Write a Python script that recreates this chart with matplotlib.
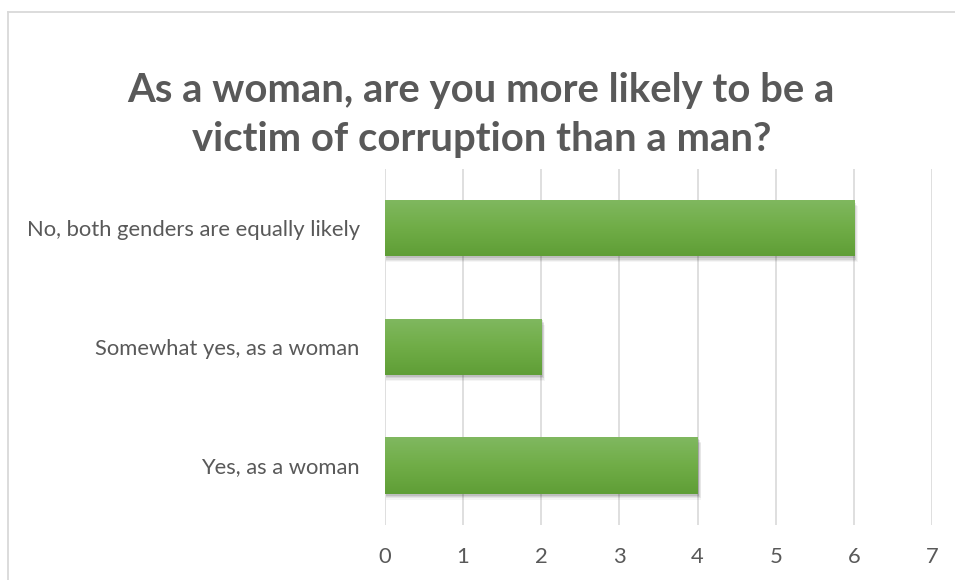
import numpy as np
import matplotlib
matplotlib.use("Agg")
import matplotlib.pyplot as plt
from matplotlib.colors import LinearSegmentedColormap
from matplotlib.patches import Rectangle
from matplotlib.lines import Line2D

plt.rcParams['font.family'] = ['Lato', 'DejaVu Sans']

categories = ["Yes, as a woman", "Somewhat yes, as a woman", "No, both genders are equally likely"]
counts = [4, 2, 6]
ticks = [0, 1, 2, 3, 4, 5, 6, 7]
title = "As a woman, are you more likely to be a\nvictim of corruption than a man?"

text_col = "#595959"
grid_col = "#d9d9d9"
green = LinearSegmentedColormap.from_list("grn", ["#80b860", "#70ad47", "#5f9e36"])

fig = plt.figure(figsize=(9.55, 5.8), dpi=100)
# chart area frame: only top and left edges fall inside the image
fx, fy = 7.5 / 955, 1 - 11.5 / 580
fig.lines.append(Line2D([fx, 1], [fy, fy], transform=fig.transFigure, color="#d9d9d9", lw=1.3))
fig.lines.append(Line2D([fx, fx], [0, fy], transform=fig.transFigure, color="#d9d9d9", lw=1.3))

ax = fig.add_axes([0.403, 0.095, 0.573, 0.614])
ypos = np.arange(len(categories))
bh = 0.476

bars = ax.barh(ypos, counts, height=bh, color="none", zorder=3)
grad = np.linspace(1, 0, 256).reshape(-1, 1)
for b in bars:
    x0, y0, w, h = b.get_x(), b.get_y(), b.get_width(), b.get_height()
    # soft drop shadow under each bar
    for k, a in enumerate([0.10, 0.08, 0.06, 0.04]):
        off = 0.015 + k * 0.012
        ax.add_patch(Rectangle((x0 + 0.02, y0 - off), w + 0.01 * k, h, facecolor="black",
                               edgecolor="none", alpha=a, zorder=2))
    im = ax.imshow(grad, cmap=green, aspect="auto", extent=(x0, x0 + w, y0 + h, y0),
                   origin="upper", zorder=4)
    im.set_clip_path(Rectangle((x0, y0), w, h, transform=ax.transData))

ax.set_xlim(0, 7)
ax.set_ylim(-0.5, 2.5)
ax.set_xticks(ticks)
ax.set_yticks(ypos)
ax.set_yticklabels(categories)
ax.xaxis.grid(True, color=grid_col, linewidth=1.2, zorder=0)
ax.set_axisbelow(True)
for s in ax.spines.values():
    s.set_visible(False)
ax.tick_params(axis="both", length=0, labelsize=15.8, labelcolor=text_col)
ax.tick_params(axis="x", pad=16)
ax.tick_params(axis="y", pad=18)

fig.text(0.504, 0.801, title, ha="center", va="center", fontsize=28.8, fontweight="bold",
         color=text_col, linespacing=1.4)

fig.savefig("out.png", dpi=100, facecolor="white")
